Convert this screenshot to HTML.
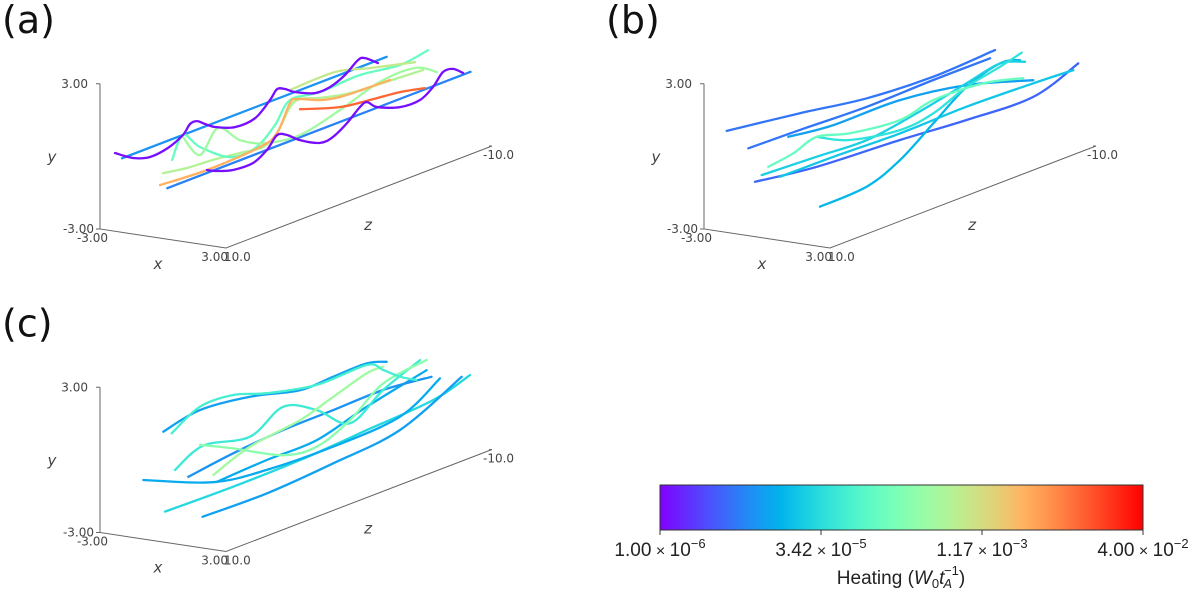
<!DOCTYPE html>
<html><head><meta charset="utf-8">
<style>
html,body{margin:0;padding:0;background:#fff;}
body{width:1200px;height:595px;overflow:hidden;font-family:"DejaVu Sans","Liberation Sans",sans-serif;}
svg{display:block;}
</style></head>
<body>
<svg id="fig" width="1200" height="595" viewBox="0 0 1200 595" xmlns="http://www.w3.org/2000/svg">
  <defs>
    <linearGradient id="rainbowGrad" x1="0" x2="1" y1="0" y2="0"></linearGradient>
  </defs>
  <g id="panels"></g>
  <g id="colorbar">
    <rect x="660" y="485" width="483" height="45" fill="url(#rainbowGrad)" stroke="#333" stroke-width="1"/>
    <g id="cbTicks"></g>
    <text x="901" y="584" text-anchor="middle" font-family="Liberation Sans, sans-serif" font-size="19" fill="#222">Heating (<tspan font-style="italic">W</tspan><tspan font-size="13" dy="4">0</tspan><tspan font-style="italic" dy="-4">t</tspan><tspan font-size="13" font-style="italic" dy="4" dx="-1">A</tspan><tspan font-size="13" dy="-13" dx="-8">−1</tspan><tspan dy="9">)</tspan></text>
  </g>
</svg>
<script>
// ---- colour scale data ----
const heatMin = 1e-6;
const heatMax = 4e-2;
const cbTickValues = [1e-6, 3.42e-5, 1.17e-3, 4e-2];
const cbTickMant = ["1.00", "3.42", "1.17", "4.00"];
const cbTickExp = ["−6", "−5", "−3", "−2"];

// ---- panel (a) field lines: z samples, y samples, heating ----
const aZ1 = [11.5, -8.4];  const aY1 = [0.5, 0.5];  const aH1 = 8e-6;
const aZ2 = [8.1, -14.7];  const aY2 = [-1.45, -1.45]; const aH2 = 6e-6;
const aZ3 = [12.03,10.68,9.4,8.05,6.92,6.39,5.86,5.26,4.51,3.01,1.5,0.38,-0.15,-0.75,-1.5,-3.0,-4.14,-5.26,-6.24,-6.77,-7.74];
const aY3 = [0.83,0.34,0.11,0.2,0.5,0.84,0.85,0.6,0.32,0.0,0.05,0.56,0.9,0.78,0.5,0.14,0.15,0.41,0.82,0.79,0.38];
const aH3 = 1.2e-6;
const aZ4 = [5.11,4.36,3.16,1.65,0.6,-0.15,-0.9,-1.88,-3.38,-4.36,-5.41,-6.39,-6.92,-7.67,-9.4,-10.9,-11.88,-12.63,-13.38,-14.14];
const aY4 = [-1.33,-1.53,-1.74,-1.77,-1.45,-1.0,-1.15,-1.57,-2.0,-1.96,-1.61,-1.15,-1.06,-1.42,-1.79,-1.81,-1.48,-1.02,-1.05,-1.38];
const aH4 = 1.2e-6;
const aZ5 = [8.42,6.62,4.66,2.63,0.9,-0.15,-1.13,-1.88,-3.38,-5.64,-8.12,-11.13];
const aY5 = [-0.76,-0.93,-1.01,-1.15,-1.27,-0.91,-0.05,0.13,-0.14,-0.42,-0.52,-0.62];
const aH5 = 6e-4;
const aZ6 = [8.65,5.11,1.13,-0.15,-1.13,-1.65,-3.38,-4.89,-6.92,-8.65];
const aY6 = [-1.21,-1.33,-1.22,-0.91,0.12,0.18,-0.23,-0.42,-0.48,-0.51];
const aH6 = 3e-3;
const aZ7 = [-1.88,-4.14,-5.41,-7.14,-9.4,-11.28];
const aY7 = [-0.29,-0.72,-0.9,-1.02,-1.17,-1.4];
const aH7 = 1e-2;
const aZ8 = [7.74,6.92,5.64,3.38,1.5,0,-1.13,-3.38,-6.39,-9.4,-11.5];
const aY8 = [-0.36,0.5,-0.27,-1.16,-1.19,-0.55,0.24,0.1,0.17,-0.05,0.12];
const aH8 = 1.2e-4;
const aZ9 = [6.92,5.64,4.29,2.63,0.75,-1.88,-4.89,-7.89,-10.53,-12.18];
const aY9 = [0.41,-0.6,0.23,-0.62,-1.14,-1.36,-0.96,-0.43,-0.41,-0.93];
const aH9 = 4e-4;
const aZ10 = [-1.13,-4.51,-7.14,-10.53];
const aY10 = [0.66,0.69,0.3,-0.17];
const aH10 = 8e-4;

// ---- panel (b) ----
const bZ1 = [11.45,5.94,0.92,-4.08,-8.72]; const bY1 = [1.62,1.19,0.75,0.59,0.71]; const bH1 = 5e-6;
const bZ2 = [9.83,5.94,0.92,-4.08,-8.35];  const bY2 = [0.56,0.5,0.4,0.45,0.45];   const bH2 = 5e-6;
const bZ3 = [6.82,3.44,-1.58,-6.59,-11.6]; const bY3 = [0.4,0.17,0.15,-0.29,-1.14]; const bH3 = 1e-5;
const bZ4 = [9.32,4.68,-1.58,-6.59,-11.6,-14.98]; const bY4 = [-0.93,-1.29,-1.5,-1.73,-1.83,-1.16]; const bH4 = 4e-6;
const bZ5 = [4.44,0.92,-1.58,-4.08,-6.59,-9.1,-10.6]; const bY5 = [-2.99,-2.9,-2.33,-1.34,-0.36,0.08,-0.1]; const bH5 = 1.5e-5;
const bZ6 = [8.32,6.44,4.68,2.18,-1.58,-4.08,-7.84,-10.85]; const bY6 = [-0.52,-0.36,-0.05,-0.43,-0.68,-0.38,-0.48,-0.9]; const bH6 = 1.2e-4;
const bZ7 = [8.82,4.68,0.92,-2.83,-6.59,-9.1,-10.98]; const bY7 = [-0.76,-0.87,-0.98,-0.66,-0.21,0.08,-0.25]; const bH7 = 2.5e-5;
const bZ8 = [4.68,2.18,-1.58,-4.08,-6.59,-9.1,-10.73]; const bY8 = [-0.05,-0.71,-1.09,-0.93,-0.36,-0.06,0.18]; const bH8 = 4e-5;
const bZ9 = [7.44,3.44,-1.58,-6.59,-11.6,-14.61]; const bY9 = [-1.12,-1.14,-1.23,-1.18,-1.27,-1.36]; const bH9 = 2e-5;

// ---- panel (c) ----
const cZ1 = [8.4,5.64,1.88,-1.88,-4.38,-6.9,-8.4]; const cY1 = [1.09,1.4,1.16,0.64,0.67,0.69,0.44]; const cH1 = 1e-5;
const cZ2 = [7.77,5.64,3.14,0.62,-3.14,-6.9,-8.14,-9.4,-10.65]; const cY2 = [0.89,1.54,1.5,1.04,0.59,0.62,0.15,-0.39,-0.79]; const cH2 = 6e-5;
const cZ3 = [8.27,3.14,-1.88,-6.9,-11.9,-14.66]; const cY3 = [-2.24,-2.29,-2.25,-2.07,-1.88,-1.43]; const cH3 = 3e-5;
const cZ4 = [5.44,0.62,-4.38,-9.4,-14.04]; const cY4 = [-3.05,-3.1,-2.91,-2.59,-1.37]; const cH4 = 1e-5;
const cZ5 = [9.9,4.64,0.62,-4.38,-9.4,-12.4]; const cY5 = [-0.59,-1.79,-2.13,-2.22,-2.04,-1.09]; const cH5 = 1.2e-5;
const cZ6 = [5.64,3.14,-0.62,-3.14,-5.64,-8.14,-11.4]; const cY6 = [-0.04,-0.71,-1.78,-1.96,-1.39,-0.4,-0.12]; const cH6 = 2.5e-4;
const cZ7 = [7.52,5.4,1.88,-0.62,-3.14,-5.64,-8.14,-10.9]; const cY7 = [-0.68,-0.12,-0.49,0.22,-0.45,-1.52,-0.67,-0.02]; const cH7 = 5e-5;
const cZ8 = [4.64,1.88,-1.88,-4.38,-6.9,-8.14]; const cY8 = [-1.49,-0.9,-0.6,-0.16,0.28,0.29]; const cH8 = 4e-4;
const cZ9 = [4.38,0.62,-3.14,-6.9,-11.4]; const cY9 = [-1.83,-1.72,-1.69,-1.1,-0.54]; const cH9 = 1.2e-5;
const cZ10 = [6.52,3.14,-0.62,-4.38,-8.14,-11.77]; const cY10 = [-1.17,-0.91,-0.74,-0.71,-0.67,-0.89]; const cH10 = 8e-6;

const lineX = -1;

const panelA = [[aZ1,aY1,aH1],[aZ2,aY2,aH2],[aZ5,aY5,aH5],[aZ8,aY8,aH8],[aZ9,aY9,aH9],[aZ10,aY10,aH10],[aZ6,aY6,aH6],[aZ7,aY7,aH7],[aZ3,aY3,aH3],[aZ4,aY4,aH4]];
const panelB = [[bZ1,bY1,bH1],[bZ2,bY2,bH2],[bZ3,bY3,bH3],[bZ4,bY4,bH4],[bZ5,bY5,bH5],[bZ9,bY9,bH9],[bZ7,bY7,bH7],[bZ8,bY8,bH8],[bZ6,bY6,bH6]];
const panelC = [[cZ1,cY1,cH1],[cZ3,cY3,cH3],[cZ4,cY4,cH4],[cZ5,cY5,cH5],[cZ9,cY9,cH9],[cZ10,cY10,cH10],[cZ7,cY7,cH7],[cZ6,cY6,cH6],[cZ8,cY8,cH8],[cZ2,cY2,cH2]];

const NS = "http://www.w3.org/2000/svg";
function mk(tag, parent){ const e=document.createElementNS(NS,tag); parent.appendChild(e); return e; }

function rainbow(t){
  t=Math.max(0,Math.min(1,t));
  const r=Math.min(1,Math.abs(2*t-0.5)), g=Math.sin(Math.PI*t), b=Math.cos(Math.PI*t/2);
  return `rgb(${Math.round(r*255)},${Math.round(g*255)},${Math.round(b*255)})`;
}
function norm(h){ return (Math.log10(h)-Math.log10(heatMin))/(Math.log10(heatMax)-Math.log10(heatMin)); }

// projection of the 3D axes box
function proj(ox, oy, x, y, z){
  return [ox + 100 + (x+3)*21 + (10-z)*13.3,
          oy + 229 + (x+3)*3.17 - (y+3)*24.2 - (10-z)*5.1];
}
function smoothPath(pts){
  if(pts.length===2) return `M${pts[0][0]},${pts[0][1]}L${pts[1][0]},${pts[1][1]}`;
  let d=`M${pts[0][0].toFixed(1)},${pts[0][1].toFixed(1)}`;
  for(let i=0;i<pts.length-1;i++){
    const p0=pts[Math.max(0,i-1)], p1=pts[i], p2=pts[i+1], p3=pts[Math.min(pts.length-1,i+2)];
    const c1=[p1[0]+(p2[0]-p0[0])/6, p1[1]+(p2[1]-p0[1])/6];
    const c2=[p2[0]-(p3[0]-p1[0])/6, p2[1]-(p3[1]-p1[1])/6];
    d+=`C${c1[0].toFixed(1)},${c1[1].toFixed(1)} ${c2[0].toFixed(1)},${c2[1].toFixed(1)} ${p2[0].toFixed(1)},${p2[1].toFixed(1)}`;
  }
  return d;
}
function txt(g, x, y, s, opts){
  const t=mk("text",g);
  t.setAttribute("x",x); t.setAttribute("y",y);
  t.setAttribute("font-size",opts.size||12);
  t.setAttribute("fill",opts.fill||"#444");
  if(opts.anchor) t.setAttribute("text-anchor",opts.anchor);
  if(opts.italic) t.setAttribute("font-style","italic");
  t.textContent=s;
  return t;
}

const panelsG=document.getElementById("panels");
function drawPanel(name, label, ox, oy, lines){
  const g=mk("g",panelsG);
  
  
  const lab=txt(g, ox+2, oy+33, label, {size:38, fill:"#111"});
  
  
  lab.setAttribute("font-family","DejaVu Sans, sans-serif");
  const ax=mk("path",g);
  
  
  const o=proj(ox,oy,-3,-3,10), yt=proj(ox,oy,-3,3,10), xe=proj(ox,oy,3,-3,10), ze=proj(ox,oy,3,-3,-10);
  ax.setAttribute("d",`M${yt[0]},${yt[1]}L${o[0]},${o[1]}L${xe[0]},${xe[1]}L${ze[0]},${ze[1]}M${yt[0]-4},${yt[1]}L${yt[0]},${yt[1]}M${o[0]-4},${o[1]}L${o[0]},${o[1]}M${ze[0]-3},${ze[1]}L${ze[0]},${ze[1]}`);
  ax.setAttribute("stroke","#666"); ax.setAttribute("stroke-width","1"); ax.setAttribute("fill","none");
  const labels=[
    [yt[0]-12, yt[1]+4, "3.00", "end", false, 12, "y-tick-max"],
    [o[0]-6, o[1]+4, "-3.00", "end", false, 12, "y-tick-min"],
    [o[0]+8, o[1]+13, "-3.00", "end", false, 12, "x-tick-min"],
    [xe[0]+2, xe[1]+13, "3.00", "end", false, 12, "x-tick-max"],
    [xe[0]-2, xe[1]+13, "10.0", "start", false, 12, "z-tick-min"],
    [ze[0]-9, ze[1]+13, "-10.0", "start", false, 12, "z-tick-max"],
    [o[0]-48, oy+162, "y", "middle", true, 15, "y-axis-title"],
    [ox+158, oy+269, "x", "middle", true, 15, "x-axis-title"],
    [ox+368, oy+230, "z", "middle", true, 15, "z-axis-title"]
  ];
  labels.forEach(l=>{
    const t=txt(g,l[0],l[1],l[2],{anchor:l[3],italic:l[4],size:l[5]});
    
    
  });
  lines.forEach((ln,i)=>{
    const zs=ln[0], ys=ln[1], h=ln[2];
    const pts=zs.map((z,k)=>proj(ox,oy,lineX,ys[k],z));
    const p=mk("path",g);
    
    
    p.setAttribute("d",smoothPath(pts));
    p.setAttribute("fill","none");
    p.setAttribute("stroke",rainbow(norm(h)));
    p.setAttribute("stroke-width","2.3");
    p.setAttribute("stroke-linecap","round");
  });
}
drawPanel("a","(a)",0,0,panelA);
drawPanel("b","(b)",604,0,panelB);
drawPanel("c","(c)",0,303.5,panelC);

const grad=document.getElementById("rainbowGrad");
for(let i=0;i<=20;i++){
  const s=mk("stop",grad);
  s.setAttribute("offset",(i/20).toFixed(3));
  s.setAttribute("stop-color",rainbow(i/20));
}
const cbG=document.getElementById("cbTicks");
cbTickValues.forEach((v,i)=>{
  const x=660+norm(v)*483;
  const tk=mk("line",cbG);
  
  
  tk.setAttribute("x1",x); tk.setAttribute("x2",x); tk.setAttribute("y1",530); tk.setAttribute("y2",535);
  tk.setAttribute("stroke","#333");
  const t=mk("text",cbG);
  
  
  t.setAttribute("x",x); t.setAttribute("y",556);
  t.setAttribute("text-anchor","middle");
  t.setAttribute("font-family","Liberation Sans, sans-serif");
  t.setAttribute("font-size","19"); t.setAttribute("fill","#222");
  t.innerHTML=`${cbTickMant[i]}<tspan font-size="16"> × </tspan>10<tspan font-size="13" dy="-8">${cbTickExp[i]}</tspan>`;
});
</script>
</body></html>
